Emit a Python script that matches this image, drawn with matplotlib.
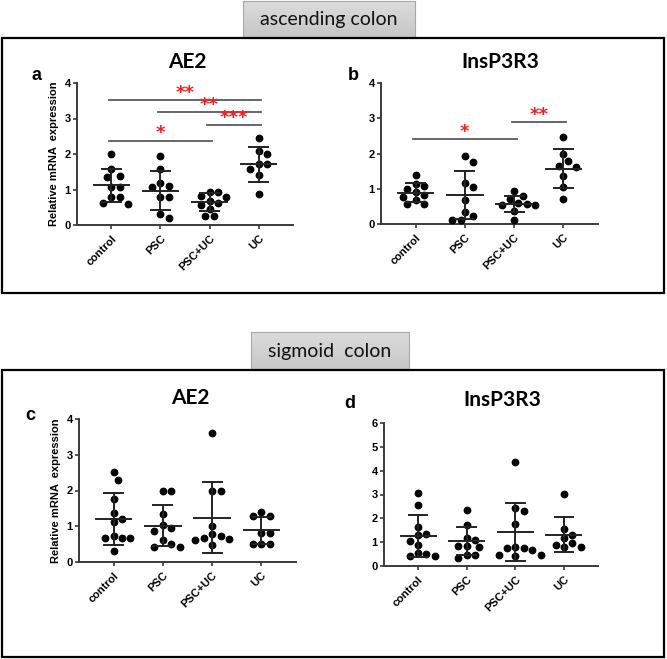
import numpy as np
import matplotlib
matplotlib.use("Agg")
import matplotlib.pyplot as plt
from matplotlib.patches import Rectangle

# groups on the x axis
groups = ["control", "PSC", "PSC+UC", "UC"]

# ascending colon, AE2 (panel a)
a_vals = [
    [2.01, 1.57, 1.38, 1.35, 1.08, 1.08, 0.80, 0.78, 0.63, 0.59],
    [1.93, 1.57, 1.18, 1.10, 1.08, 0.80, 0.80, 0.31, 0.19],
    [0.93, 0.92, 0.82, 0.80, 0.68, 0.62, 0.55, 0.45, 0.24, 0.24],
    [2.45, 2.08, 2.00, 1.72, 1.72, 1.58, 1.40, 0.88],
]
a_mean = [1.12, 0.97, 0.65, 1.71]
a_sd = [0.46, 0.54, 0.25, 0.49]

# ascending colon, InsP3R3 (panel b)
b_vals = [
    [1.40, 1.13, 1.08, 1.00, 0.90, 0.82, 0.78, 0.67, 0.57, 0.57],
    [1.93, 1.77, 1.16, 1.04, 0.69, 0.33, 0.22, 0.12, 0.12],
    [0.93, 0.80, 0.72, 0.60, 0.56, 0.55, 0.55, 0.36, 0.10],
    [2.46, 2.00, 1.80, 1.65, 1.62, 1.36, 1.05, 0.72],
]
b_mean = [0.89, 0.83, 0.57, 1.57]
b_sd = [0.27, 0.68, 0.23, 0.56]

# sigmoid colon, AE2 (panel c)
c_vals = [
    [2.51, 2.30, 1.76, 1.36, 1.19, 1.13, 0.72, 0.68, 0.66, 0.66, 0.31],
    [2.00, 2.00, 1.35, 1.04, 0.94, 0.87, 0.61, 0.49, 0.42, 0.42],
    [3.62, 2.00, 1.98, 1.01, 0.77, 0.72, 0.66, 0.63, 0.61, 0.47],
    [1.41, 1.29, 1.29, 0.82, 0.82, 0.50, 0.50, 0.50],
]
c_mean = [1.20, 1.02, 1.24, 0.89]
c_sd = [0.72, 0.58, 1.00, 0.38]

# sigmoid colon, InsP3R3 (panel d)
d_vals = [
    [3.07, 2.58, 1.63, 1.35, 1.28, 1.04, 0.90, 0.55, 0.51, 0.41, 0.41],
    [2.37, 1.70, 1.17, 1.11, 0.83, 0.83, 0.79, 0.48, 0.48, 0.34],
    [4.35, 2.45, 2.31, 1.77, 0.79, 0.76, 0.76, 0.68, 0.48, 0.48, 0.42],
    [3.01, 1.56, 1.31, 1.17, 0.96, 0.89, 0.79, 0.79],
]
d_mean = [1.25, 1.04, 1.42, 1.31]
d_sd = [0.88, 0.58, 1.21, 0.73]

# significance bars: (from group, to group, height, stars)
a_sig = [(0, 3, 3.51, "**"), (1, 3, 3.17, "**"), (2, 3, 2.82, "***"), (0, 2, 2.38, "*")]
b_sig = [(0, 2, 2.41, "*"), (2, 3, 2.90, "**")]

W, H = 667, 659
fig = plt.figure(figsize=(W / 100, H / 100), dpi=100)


def fx(px):
    return px / W


def fy(py):
    return 1 - py / H


def swarm(ax, vals, center):
    # simple beeswarm: put each dot as close to the center as possible without overlap
    p0 = ax.transData.transform((0, 0))
    p1 = ax.transData.transform((1, 1))
    sx, sy = p1 - p0
    d = 8.0
    step = 4.2
    placed = []
    xs = []
    for v in vals:
        k = 0
        while True:
            off = ((k + 1) // 2) * step * (1 if k % 2 == 1 else -1)
            ok = True
            for (ox, oy) in placed:
                if np.hypot(off - ox, (v - oy) * sy) < d:
                    ok = False
                    break
            if ok:
                break
            k += 1
        placed.append((off, v))
        xs.append(center + off / sx)
    return xs


def panel(box, vals, means, sds, ymax, sig=None, ylabel=False):
    left, top, right, bottom = box
    ax = fig.add_axes([fx(left), fy(bottom), fx(right - left), fy(top) - fy(bottom)])
    ax.set_xlim(0.3, 4.7)
    ax.set_ylim(0, ymax)
    for s in ["top", "right"]:
        ax.spines[s].set_visible(False)
    for s in ["left", "bottom"]:
        ax.spines[s].set_color("#3a3a3a")
        ax.spines[s].set_linewidth(1.4)
    ax.set_xticks(range(1, 5))
    ax.set_xticklabels(groups, rotation=45, ha="right", rotation_mode="anchor",
                       fontsize=8, fontweight="bold", family="Liberation Sans")
    ax.set_yticks(range(0, ymax + 1))
    ax.set_yticklabels([str(i) for i in range(ymax + 1)], fontsize=8,
                       fontweight="bold", family="Liberation Sans")
    ax.tick_params(axis="both", color="#3a3a3a", width=1.2, length=3, pad=1.5)
    ax.tick_params(axis="x", pad=3)
    for i, v in enumerate(vals):
        c = i + 1
        xs = swarm(ax, v, c)
        ax.plot(xs, v, "o", color="black", markersize=4.6, zorder=3, clip_on=False)
        m, s = means[i], sds[i]
        ax.plot([c, c], [m - s, m + s], color="#222222", lw=1.4, zorder=4)
        ax.plot([c - 0.36, c + 0.36], [m, m], color="#222222", lw=1.4, zorder=4)
        for yy in (m - s, m + s):
            ax.plot([c - 0.19, c + 0.19], [yy, yy], color="#222222", lw=1.4, zorder=4)
    if sig:
        for g1, g2, yy, lab in sig:
            ax.plot([g1 + 1 - 0.05, g2 + 1 + 0.05], [yy, yy], color="#5a5a5a", lw=1.3)
            ax.text((g1 + g2) / 2 + 1, yy - 0.05, lab, color="#ff1a1a", fontsize=13,
                    fontweight="bold", ha="center", va="bottom", family="DejaVu Sans")
    if ylabel:
        ax.set_ylabel("Relative mRNA  expression", fontsize=8, fontweight="bold",
                      family="Liberation Sans", labelpad=4)
    return ax


panel((77, 83, 293, 225), a_vals, a_mean, a_sd, 4, a_sig, ylabel=True)
panel((381, 83, 598, 224), b_vals, b_mean, b_sd, 4, b_sig)
panel((79, 419, 296, 562), c_vals, c_mean, c_sd, 4, ylabel=True)
panel((384, 423, 598, 566), d_vals, d_mean, d_sd, 6)

# frames around the two rows
for (x0, y0, x1, y1) in [(2, 38, 664, 293), (2, 370, 664, 657)]:
    fig.patches.append(Rectangle((fx(x0), fy(y1)), fx(x1 - x0), fy(y0) - fy(y1),
                                 transform=fig.transFigure, fill=False,
                                 edgecolor="black", lw=1.6))

# grey header boxes
grad = np.linspace(0, 1, 50).reshape(-1, 1)
for (x0, y0, x1, y1, lab) in [(243, 1, 415, 38, "ascending colon"),
                              (251, 332, 409, 370, "sigmoid  colon")]:
    hax = fig.add_axes([fx(x0), fy(y1), fx(x1 - x0), fy(y0) - fy(y1)])
    hax.imshow(grad, aspect="auto", cmap=matplotlib.colors.LinearSegmentedColormap.from_list(
        "g", ["#dcdcdc", "#c6c6c6"]), extent=(0, 1, 0, 1))
    hax.set_xticks([])
    hax.set_yticks([])
    for s in hax.spines.values():
        s.set_color("#a8a8a8")
        s.set_linewidth(0.8)
    hax.text(0.5, 0.5, lab, ha="center", va="center", fontsize=14, family="Lato",
             color="#111111", transform=hax.transAxes)

# panel titles and letters
for (x, y, t) in [(187, 62, "AE2"), (500, 62, "InsP3R3"), (190, 398, "AE2"), (502, 400, "InsP3R3")]:
    fig.text(fx(x), fy(y), t, ha="center", va="center", fontsize=15,
             fontweight="bold", family="Lato")
for (x, y, t) in [(37, 76, "a"), (353, 76, "b"), (30, 415, "c"), (350, 404, "d")]:
    fig.text(fx(x), fy(y), t, ha="center", va="center", fontsize=13,
             fontweight="bold", family="Liberation Sans")

fig.savefig("out.png", dpi=100)
